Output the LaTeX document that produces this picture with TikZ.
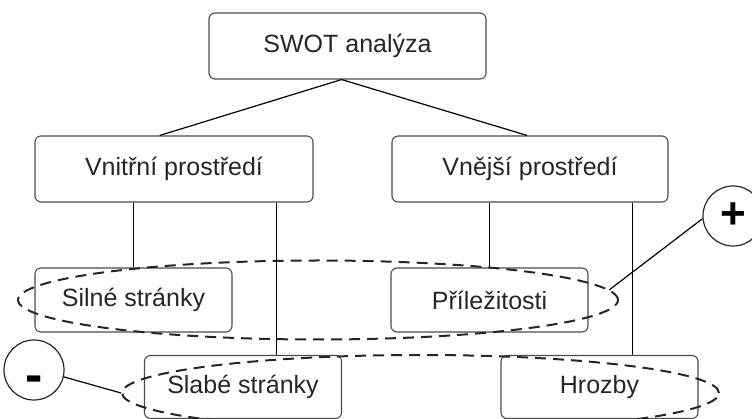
\documentclass[tikz,border=0pt]{standalone}
\usepackage{fontspec}
\setmainfont{Liberation Sans}
\usetikzlibrary{shapes.geometric}

\begin{document}
\begin{tikzpicture}[x=1pt,y=-1pt]

\tikzset{box/.style = {shape=rectangle,draw=black!70,line width=1.1pt,rounded corners=6pt,minimum width=197pt,minimum height=64pt,inner sep=0pt,text=black!85,font=\fontsize{25}{30}\selectfont}}
\tikzset{group/.style = {shape=ellipse,draw=black!85,line width=2pt,dash pattern=on 11pt off 7pt,inner sep=0pt}}
\tikzset{sign/.style = {shape=circle,draw=black!85,line width=1.2pt,minimum size=60pt,inner sep=0pt,font=\fontsize{44}{44}\bfseries\selectfont}}
\tikzset{edge/.style = {draw=black,line width=1.2pt}}

\useasboundingbox (0,0) rectangle (752,419);

% boxes
\node[box,minimum width=277pt,minimum height=66pt] (swot) at (347.5,46) {SWOT analýza};
\node[box,minimum width=278pt,minimum height=66pt] (vnitrni) at (174,169) {Vnitřní prostředí};
\node[box,minimum width=276pt,minimum height=66pt] (vnejsi) at (530,169) {Vnější prostředí};
\node[box] (silne) at (133.5,300) {Silné stránky};
\node[box] (prilez) at (489.5,300) {Příležitosti};
\node[box,minimum height=63pt] (slabe) at (243,387) {Slabé stránky};
\node[box,minimum height=63pt] (hrozby) at (599.5,387) {Hrozby};

% groups and signs
\node[group,minimum width=600pt,minimum height=79pt] (strong) at (318,300) {};
\node[group,minimum width=597pt,minimum height=76pt] (weak) at (420.5,393) {};
\node[sign] (plus) at (733,216) {+};
\node[sign,font=\fontsize{52}{52}\bfseries\selectfont,text height=44pt,text depth=0pt] (minus) at (34,370) {-};

%edges
\draw[edge] (swot.260) -- (vnitrni.113);
\draw[edge] (swot.260) -- (vnejsi.95);
\draw[edge] (vnitrni.south -| silne.north) -- (silne.north);
\draw[edge] (slabe.44 |- vnitrni.south) -- (slabe.44);
\draw[edge] (vnejsi.south -| prilez.north) -- (prilez.north);
\draw[edge] (hrozby.44 |- vnejsi.south) -- (hrozby.44);
\draw[edge] (plus.185) -- (strong.2);
\draw[edge] (minus.-13) -- (weak.west);

\end{tikzpicture}
\end{document}
